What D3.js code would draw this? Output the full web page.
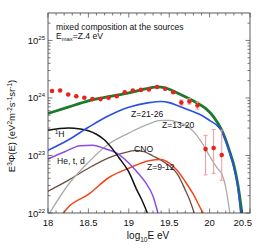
<!DOCTYPE html>
<html><head><meta charset="utf-8">
<script src="https://cdn.jsdelivr.net/npm/d3@7"></script>
<style>body{margin:0;background:#fff}svg{display:block}text{font-family:"Liberation Sans",Arial,sans-serif}</style>
</head><body>
<svg id="c" width="266" height="248"></svg>
<script>
// ---- data ----
const dataE   = [18.05,18.15,18.25,18.35,18.45,18.55,18.65,18.75,18.85,18.95,19.05,19.15,19.25,19.35,19.45,19.55,19.65,19.75,19.85,19.95,20.05,20.15];
const dataVal = [1.32e24,1.35e24,1.15e24,1.07e24,1.01e24,0.955e24,0.955e24,1.01e24,1.07e24,1.26e24,1.35e24,1.38e24,1.41e24,1.55e24,1.45e24,1.26e24,0.83e24,0.87e24,0.74e24,1.29e23,1.35e23,1.02e23];
const dataHi  = [null,null,null,null,null,null,null,null,null,null,null,null,null,null,null,null,0.92e24,0.97e24,0.85e24,2.24e23,2.82e23,2.75e23];
const dataLo  = [null,null,null,null,null,null,null,null,null,null,null,null,null,null,null,null,0.75e24,0.78e24,0.64e24,4.6e22,4.9e22,3.7e22];

const totalE   = [18.0,18.25,18.5,18.75,19.0,19.25,19.35,19.45,19.55,19.65,19.75,19.85,19.95,20.05,20.15,20.2,20.25,20.3,20.35,20.4];
const totalVal = [5.37e23,6.92e23,8.91e23,1.05e24,1.23e24,1.48e24,1.56e24,1.50e24,1.32e24,1.13e24,0.97e24,0.81e24,0.66e24,4.7e23,2.75e23,1.86e23,1.15e23,6.8e22,3.1e22,1.0e22];

const heavyE   = [18.0,18.25,18.5,18.75,19.0,19.25,19.4,19.5,19.6,19.7,19.8,19.9,20.0,20.1,20.15,20.2,20.25,20.3,20.35,20.385];
const heavyVal = [1.23e23,1.86e23,3.09e23,4.9e23,6.9e23,8.3e23,8.7e23,8.3e23,7.4e23,6.5e23,5.75e23,5.0e23,4.07e23,3.24e23,2.63e23,1.78e23,1.10e23,6.3e22,2.8e22,1.0e22];

const midE   = [18.02,18.25,18.5,18.75,19.0,19.25,19.4,19.5,19.6,19.7,19.8,19.9,20.0,20.1,20.15,20.2,20.25];
const midVal = [1.0e22,3.1e22,7.6e22,1.58e23,2.45e23,3.55e23,4.07e23,4.07e23,3.8e23,3.4e23,2.63e23,1.7e23,0.98e23,5.9e22,4.8e22,2.8e22,1.0e22];

const hE   = [18.0,18.25,18.4,18.5,18.6,18.7,18.8,18.9,19.0,19.1,19.15,19.23];
const hVal = [2.75e23,3.0e23,2.9e23,2.7e23,2.34e23,1.86e23,1.29e23,8.3e22,5.2e22,2.5e22,1.82e22,1.0e22];

const heE   = [18.0,18.2,18.4,18.55,18.7,18.85,19.0,19.1,19.2,19.3,19.36];
const heVal = [8.7e22,1.15e23,1.48e23,1.51e23,1.32e23,1.10e23,7.4e22,5.2e22,3.5e22,1.95e22,1.0e22];

const cnoE   = [18.0,18.25,18.5,18.75,19.0,19.1,19.2,19.3,19.4,19.5,19.6,19.7,19.75,19.81];
const cnoVal = [2.4e22,3.7e22,6.0e22,9.1e22,1.17e23,1.23e23,1.15e23,9.8e22,8.3e22,6.6e22,4.8e22,2.5e22,1.74e22,1.0e22];

const neE   = [18.19,18.25,18.5,18.75,19.0,19.25,19.4,19.5,19.6,19.7,19.8,19.9,19.92];
const neVal = [1.0e22,1.26e22,2.1e22,4.1e22,6.0e22,8.1e22,8.5e22,7.4e22,5.5e22,3.5e22,2.1e22,1.12e22,1.0e22];

const xTicks = [18,18.5,19,19.5,20,20.5];
const xTickLabels = ["18","18.5","19","19.5","20","20.5"];
const yTicks = [1e22,1e23,1e24,1e25];
const yTickExp = ["22","23","24","25"];

// ---- layout ----
const svg = d3.select("#c");
const L=48,R=250,T=13,B=213;
const x = d3.scaleLinear().domain([18,20.5]).range([L,R]);
const y = d3.scaleLog().domain([1e22,3e25]).range([B,T]);

svg.append("defs").append("clipPath").attr("id","clip")
  .append("rect").attr("x",L).attr("y",T).attr("width",R-L).attr("height",B-T);

const series = [
  {E:cnoE, V:cnoVal, color:"#6b4c42", w:1.3},
  {E:neE,  V:neVal,  color:"#f0461a", w:1.5},
  {E:midE, V:midVal, color:"#ababab", w:1.3},
  {E:heE,  V:heVal,  color:"#8a4ce6", w:1.5},
  {E:hE,   V:hVal,   color:"#111111", w:1.5},
  {E:totalE, V:totalVal, color:"#1c7a2c", w:2.8},
  {E:heavyE, V:heavyVal, color:"#2b4fe6", w:1.6},
];
const line = d3.line().x(d=>x(d[0])).y(d=>y(d[1])).curve(d3.curveMonotoneX);
const g = svg.append("g").attr("clip-path","url(#clip)");
series.forEach(s=>{
  g.append("path").datum(s.E.map((e,i)=>[e,s.V[i]]))
   .attr("d",line).attr("fill","none").attr("stroke",s.color).attr("stroke-width",s.w);
});

// error bars and points
const pts = dataE.map((e,i)=>({e,v:dataVal[i],hi:dataHi[i],lo:dataLo[i]}));
pts.filter(p=>p.hi!=null).forEach(p=>{
  const col="#f29a9a";
  g.append("line").attr("x1",x(p.e)).attr("x2",x(p.e)).attr("y1",y(p.hi)).attr("y2",y(p.lo)).attr("stroke",col).attr("stroke-width",1);
  [p.hi,p.lo].forEach(v=>g.append("line").attr("x1",x(p.e)-2).attr("x2",x(p.e)+2).attr("y1",y(v)).attr("y2",y(v)).attr("stroke",col).attr("stroke-width",1));
});
g.selectAll("circle.pt").data(pts).enter().append("circle")
  .attr("cx",p=>x(p.e)).attr("cy",p=>y(p.v)).attr("r",2.3).attr("fill","#e8231c");

// frame
svg.append("rect").attr("x",L).attr("y",T).attr("width",R-L).attr("height",B-T)
  .attr("fill","none").attr("stroke","#333").attr("stroke-width",0.8);

// ticks
const tk = svg.append("g").attr("stroke","#444").attr("stroke-width",0.7);
d3.range(18,20.5001,0.1).forEach(v=>{
  const major = Math.abs(v*2-Math.round(v*2))<1e-6;
  const len = major?4.5:2.5;
  tk.append("line").attr("x1",x(v)).attr("x2",x(v)).attr("y1",B).attr("y2",B-len);
  tk.append("line").attr("x1",x(v)).attr("x2",x(v)).attr("y1",T).attr("y2",T+len);
});
[22,23,24,25].forEach(d=>{
  for(let m=1;m<=9;m++){
    const v=m*Math.pow(10,d);
    if(v>3e25) break;
    const len = m===1?4.5:2.5;
    tk.append("line").attr("x1",L).attr("x2",L+len).attr("y1",y(v)).attr("y2",y(v));
    tk.append("line").attr("x1",R).attr("x2",R-len).attr("y1",y(v)).attr("y2",y(v));
  }
});

// tick labels
xTicks.forEach((v,i)=>{
  const last = i===xTicks.length-1;
  svg.append("text").attr("x",last?x(v)+2:x(v)).attr("y",226)
    .attr("text-anchor",last?"end":"middle").attr("font-size",9.5).attr("fill","#111").text(xTickLabels[i]);
});
yTicks.forEach((v,i)=>{
  const t=svg.append("text").attr("x",45).attr("y",y(v)+3.5).attr("text-anchor","end").attr("font-size",9.5).attr("fill","#111");
  t.append("tspan").text("10");
  t.append("tspan").attr("dy",-4).attr("font-size",6).text(yTickExp[i]);
});

// axis labels
const xl = svg.append("text").attr("x",148).attr("y",239).attr("text-anchor","middle").attr("font-size",10).attr("fill","#111");
xl.append("tspan").text("log");
xl.append("tspan").attr("dy",2.5).attr("font-size",6.5).text("10");
xl.append("tspan").attr("dy",-2.5).text("E eV");

const yl = svg.append("text").attr("transform","translate(15,126) rotate(-90)").attr("text-anchor","middle").attr("font-size",9.5).attr("fill","#111");
const parts=[["E",0],["3",1],["Φ(E) (eV",0],["2",1],["m",0],["-2",1],["s",0],["-1",1],["sr",0],["-1",1],[")",0]];
let prev=0;
parts.forEach(([s,sup])=>{
  const dy=(sup?-3.5:0)-(prev?-3.5:0);
  yl.append("tspan").attr("dy",dy).attr("font-size",sup?6.5:9.5).text(s);
  prev=sup;
});

// annotations
svg.append("text").attr("x",56).attr("y",30).attr("font-size",8.6).attr("fill","#111").text("mixed composition at the sources");
const em = svg.append("text").attr("x",56).attr("y",38.5).attr("font-size",8.6).attr("fill","#111");
em.append("tspan").text("E");
em.append("tspan").attr("dy",2).attr("font-size",5.8).text("max");
em.append("tspan").attr("dy",-2).text("=Z.4 eV");

const lab=(tx,ty,parts)=>{
  const t=svg.append("text").attr("x",tx).attr("y",ty).attr("font-size",8.6).attr("fill","#111");
  let p=0;
  parts.forEach(([s,sup])=>{ t.append("tspan").attr("dy",(sup?-3:0)-(p?-3:0)).attr("font-size",sup?5.8:8.6).text(s); p=sup;});
};
lab(55,137,[["1",1],["H",0]]);
lab(57,164,[["He, t, d",0]]);
lab(131,117,[["Z=21-26",0]]);
lab(162,128,[["Z=13-20",0]]);
lab(134,152,[["CNO",0]]);
lab(147,170,[["Z=9-12",0]]);
</script>
</body></html>
